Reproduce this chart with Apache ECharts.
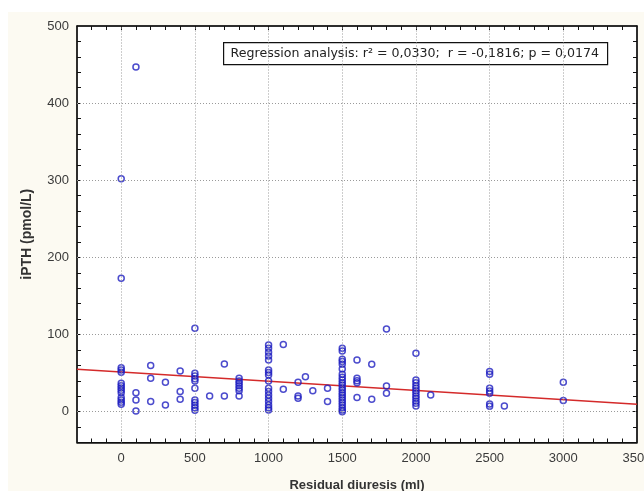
<!DOCTYPE html>
<html>
<head>
<meta charset="utf-8">
<script src="https://cdn.jsdelivr.net/npm/echarts@6/dist/echarts.min.js"></script>
<style>
html,body{margin:0;padding:0;background:#ffffff;}
#chart{width:644px;height:491px;}
</style>
</head>
<body>
<div id="chart"></div>
<script>
// Residual diuresis (ml) for each patient
var diuresis = [
  0,0,0,0,0,0,0,0,0,0,0,0,0,0,
  100,100,100,100,
  200,200,200,
  300,300,
  400,400,400,
  500,500,500,500,500,500,500,500,500,500,500,
  600,
  700,700,
  800,800,800,800,800,800,800,
  1000,1000,1000,1000,1000,1000,1000,1000,1000,1000,1000,1000,1000,1000,1000,1000,1000,
  1100,1100,
  1200,1200,1200,
  1250,
  1300,
  1400,1400,
  1500,1500,1500,1500,1500,1500,1500,1500,1500,1500,1500,1500,1500,1500,1500,1500,1500,1500,1500,1500,1500,1500,
  1600,1600,1600,1600,1600,
  1700,1700,
  1800,1800,1800,
  2000,2000,2000,2000,2000,2000,2000,2000,2000,2000,2000,2000,
  2100,
  2500,2500,2500,2500,2500,2500,2500,
  2600,
  3000,3000
];
// iPTH (pmol/L) for each patient
var ipth = [
  302,173,57,54,51,36.8,33.7,30.7,27.8,24.6,18.2,15.2,12.2,9.6,
  447,24.6,15.2,1,
  59.7,43.3,13,
  38,8.7,
  52.8,26,16,
  108,49.8,46.3,42.8,39.8,30.3,15.2,11.7,8.3,5.2,1.8,
  20.4,
  61.9,20.4,
  43.3,39.8,36.8,33.7,30.3,27.2,20.4,
  86.5,82.2,77,72.2,67,54,50.6,47.6,39.8,30.3,26,21.7,17.4,13,8.7,5.2,2.2,
  87,29,
  38,20.4,17.4,
  45.4,
  27.2,
  30.3,13,
  82.2,78.7,68,64.9,61.5,55.4,48.5,44.6,41.1,37.6,34.6,31.1,28.1,24.6,21.7,18.2,15.2,11.7,8.7,5.2,2.2,0,
  67,43.3,40.2,37.6,18.2,
  61.5,16,
  107,33.3,23.8,
  75.7,41.1,37.6,33.7,30.3,27.2,23.8,20.4,17.4,13.9,10.9,7.4,
  21.7,
  51.9,48.5,30.3,26.8,23.8,10,7,
  7.4,
  38,14.3
];
// Regression line end points
var regX = [-300, 3500];
var regY = [54.9, 9.5];

// Axis ranges and ticks
var xMin = -300, xMax = 3500;
var yMin = -40, yMax = 500;
var xTickLabels = [0, 500, 1000, 1500, 2000, 2500, 3000, 3500];
var yTickLabels = [0, 100, 200, 300, 400, 500];
var xGridValues = [0, 500, 1000, 1500, 2000, 2500, 3000];
var yGridValues = [0, 100, 200, 300, 400];
var xMinorTicks = [-200,-100,0,100,200,300,400,500,600,700,800,900,1000,1100,1200,1300,1400,1500,1600,1700,1800,1900,2000,2100,2200,2300,2400,2500,2600,2700,2800,2900,3000,3100,3200,3300,3400];
var yMinorTicks = [-20,0,20,40,60,80,100,120,140,160,180,200,220,240,260,280,300,320,340,360,380,400,420,440,460,480];

var annotationText = 'Regression analysis: r\u00B2 = 0,0330;  r = -0,1816; p = 0,0174';

var points = diuresis.map(function (x, i) { return [x, ipth[i]]; });
var regLine = regX.map(function (x, i) { return [x, regY[i]]; });
var gridMarks = xGridValues.map(function (v) { return { xAxis: v }; })
  .concat(yGridValues.map(function (v) { return { yAxis: v }; }));

var chart = echarts.init(document.getElementById('chart'), null, { renderer: 'canvas' });
var axisLineStyle = { color: '#111', width: 1.5 };
var plainNumber = function (v) { return String(v); };
var labelStyle = { color: '#3a3a3a', fontSize: 13, fontFamily: 'Liberation Sans, Arial, sans-serif', formatter: plainNumber };

chart.setOption({
  animation: false,
  backgroundColor: '#fcfaf2',
  grid: {
    left: 77, right: 7, top: 26, bottom: 48.5,
    outerBoundsMode: 'none', containLabel: false,
    show: true, backgroundColor: '#ffffff', borderColor: '#111', borderWidth: 1
  },
  xAxis: [
    {
      type: 'value', min: xMin, max: xMax, position: 'bottom',
      name: 'Residual diuresis (ml)', nameLocation: 'middle', nameGap: 36,
      nameTextStyle: { color: '#333', fontSize: 13, fontWeight: 'bold', fontFamily: 'Liberation Sans, Arial, sans-serif' },
      axisLine: { show: true, onZero: false, lineStyle: axisLineStyle },
      axisTick: { show: true, inside: true, length: 4, customValues: xMinorTicks, lineStyle: { color: '#111' } },
      axisLabel: Object.assign({ customValues: xTickLabels, margin: 9, showMaxLabel: true }, labelStyle),
      splitLine: { show: false }
    },
    {
      type: 'value', min: xMin, max: xMax, position: 'top',
      axisLine: { show: true, onZero: false, lineStyle: axisLineStyle },
      axisTick: { show: true, inside: true, length: 4, customValues: xMinorTicks, lineStyle: { color: '#111' } },
      axisLabel: { show: false },
      splitLine: { show: false }
    }
  ],
  yAxis: [
    {
      type: 'value', min: yMin, max: yMax, position: 'left',
      name: 'iPTH (pmol/L)', nameLocation: 'middle', nameGap: 43, nameRotate: 90,
      nameTextStyle: { color: '#333', fontSize: 14, fontWeight: 'bold', fontFamily: 'Liberation Sans, Arial, sans-serif' },
      axisLine: { show: true, onZero: false, lineStyle: axisLineStyle },
      axisTick: { show: true, inside: true, length: 4, customValues: yMinorTicks, lineStyle: { color: '#111' } },
      axisLabel: Object.assign({ customValues: yTickLabels, margin: 8 }, labelStyle),
      splitLine: { show: false }
    },
    {
      type: 'value', min: yMin, max: yMax, position: 'right',
      axisLine: { show: true, onZero: false, lineStyle: axisLineStyle },
      axisTick: { show: true, inside: true, length: 4, customValues: yMinorTicks, lineStyle: { color: '#111' } },
      axisLabel: { show: false },
      splitLine: { show: false }
    }
  ],
  graphic: [
    { type: 'rect', left: 0, top: 0, shape: { width: 644, height: 12 }, style: { fill: '#ffffff' }, z: -10, silent: true },
    { type: 'rect', left: 0, top: 0, shape: { width: 8, height: 491 }, style: { fill: '#ffffff' }, z: -10, silent: true },
    {
      type: 'group', left: 223, top: 42, z: 100,
      children: [
        { type: 'rect', shape: { x: 0, y: 0, width: 384, height: 22 }, style: { fill: '#ffffff', stroke: '#111', lineWidth: 1.2 } },
        { type: 'text', x: 7, y: 11, style: { text: annotationText, fill: '#222', fontSize: 12.6, fontFamily: 'DejaVu Sans, sans-serif', verticalAlign: 'middle' } }
      ]
    }
  ],
  series: [
    {
      type: 'scatter', data: [], z: 1, silent: true,
      markLine: {
        silent: true, symbol: ['none', 'none'], animation: false,
        label: { show: false },
        lineStyle: { type: [1, 2], color: '#9a9a9a', width: 1 },
        emphasis: { disabled: true },
        data: gridMarks
      }
    },
    {
      type: 'line', data: regLine, z: 3, symbol: 'none', silent: true,
      lineStyle: { color: '#d42a2a', width: 1.5 }
    },
    {
      type: 'scatter', data: points, z: 4, symbol: 'circle', symbolSize: 6,
      itemStyle: { color: 'rgba(255,255,255,0)', borderColor: '#1f1fc0', borderWidth: 1.5 }
    }
  ]
});
</script>
</body>
</html>
